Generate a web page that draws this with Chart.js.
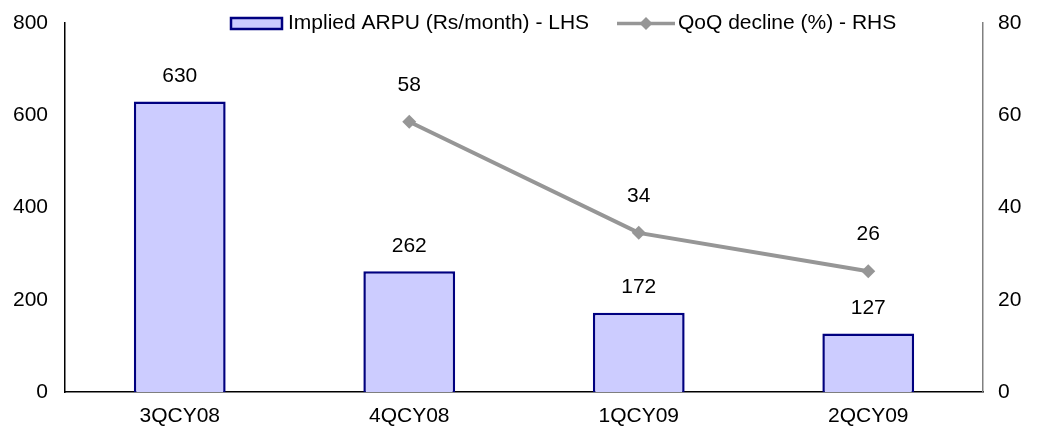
<!DOCTYPE html>
<html><head><meta charset="utf-8">
<script src="https://cdn.jsdelivr.net/npm/chart.js@4/dist/chart.umd.min.js"></script>
<style>html,body{margin:0;padding:0;background:#fff;}canvas{display:block;}</style>
</head><body>
<canvas id="c" width="1037" height="437"></canvas>
<script>
const categories = ['3QCY08', '4QCY08', '1QCY09', '2QCY09'];
const arpu = [630, 262, 172, 127];
const qoqDecline = [null, 58.6, 34.5, 26.2];
const leftTicks = [0, 200, 400, 600, 800];
const rightTicks = [0, 20, 40, 60, 80];
const seriesNames = ['Implied ARPU (Rs/month) - LHS', 'QoQ decline (%) - RHS'];

const FONT = '"Liberation Sans", Arial, sans-serif';
const FS = 21;

const labelPlugin = {
  id: 'valueLabels',
  afterDatasetsDraw(chart) {
    const ctx = chart.ctx;
    ctx.save();
    ctx.font = FS + 'px ' + FONT;
    ctx.fillStyle = '#000';
    ctx.textAlign = 'center';
    ctx.textBaseline = 'middle';
    chart.data.datasets.forEach((ds, di) => {
      const meta = chart.getDatasetMeta(di);
      meta.data.forEach((el, i) => {
        const v = ds.data[i];
        if (v === null || v === undefined) return;
        const off = ds.type === 'bar' ? 25 : 37;
        ctx.fillText(String(Math.floor(v)), el.x, el.y - off);
      });
    });
    ctx.restore();
  }
};

const legendPlugin = {
  id: 'customLegend',
  afterDraw(chart) {
    const ctx = chart.ctx;
    ctx.save();
    ctx.font = FS + 'px ' + FONT;
    ctx.textBaseline = 'middle';
    ctx.textAlign = 'left';
    const cy = 23.5;
    ctx.fillStyle = '#CCCCFF';
    ctx.fillRect(231, 18, 51, 11);
    ctx.strokeStyle = '#000080';
    ctx.lineWidth = 2.5;
    ctx.strokeRect(231, 18, 51, 11);
    ctx.fillStyle = '#000';
    ctx.fillText(seriesNames[0], 288, cy);
    ctx.strokeStyle = '#969696';
    ctx.lineWidth = 3.5;
    ctx.beginPath();
    ctx.moveTo(617, cy);
    ctx.lineTo(675, cy);
    ctx.stroke();
    ctx.fillStyle = '#969696';
    ctx.beginPath();
    ctx.moveTo(646, cy - 6.5);
    ctx.lineTo(652.5, cy);
    ctx.lineTo(646, cy + 6.5);
    ctx.lineTo(639.5, cy);
    ctx.closePath();
    ctx.fill();
    ctx.fillStyle = '#000';
    ctx.fillText(seriesNames[1], 678, cy);
    ctx.restore();
  }
};

new Chart(document.getElementById('c'), {
  data: {
    labels: categories,
    datasets: [
      {
        type: 'line',
        label: seriesNames[1],
        data: qoqDecline,
        yAxisID: 'y1',
        borderColor: '#969696',
        backgroundColor: '#969696',
        borderWidth: 4,
        pointStyle: 'rectRot',
        pointRadius: 7,
        pointBackgroundColor: '#969696',
        pointBorderColor: '#969696',
        pointBorderWidth: 0,
        tension: 0,
        order: 0
      },
      {
        type: 'bar',
        label: seriesNames[0],
        data: arpu,
        yAxisID: 'y',
        backgroundColor: '#CCCCFF',
        borderColor: '#000080',
        borderWidth: 2.5,
        categoryPercentage: 1,
        barPercentage: 0.4,
        order: 1
      }
    ]
  },
  options: {
    responsive: false,
    animation: false,
    devicePixelRatio: 1,
    layout: { padding: { top: 23, bottom: 0, left: 0, right: 0 } },
    plugins: { legend: { display: false }, tooltip: { enabled: false } },
    scales: {
      x: {
        grid: { display: false, drawTicks: false },
        border: { display: true, color: '#000', width: 1.5 },
        ticks: { color: '#000', font: { family: FONT, size: FS }, padding: 12, maxRotation: 0 },
        afterFit(s) { s.height = 45; }
      },
      y: {
        position: 'left',
        min: 0, max: 800,
        afterBuildTicks(s) { s.ticks = leftTicks.map(v => ({ value: v })); },
        grid: { display: false, drawTicks: true, tickLength: 17 },
        border: { display: true, color: '#000', width: 1.5 },
        ticks: { color: '#000', font: { family: FONT, size: FS }, padding: 0 },
        afterFit(s) { s.width = 65; }
      },
      y1: {
        position: 'right',
        min: 0, max: 80,
        afterBuildTicks(s) { s.ticks = rightTicks.map(v => ({ value: v })); },
        grid: { display: false, drawTicks: true, tickLength: 15 },
        border: { display: true, color: '#808080', width: 1.5 },
        ticks: { color: '#000', font: { family: FONT, size: FS }, padding: 0 },
        afterFit(s) { s.width = 54; }
      }
    }
  },
  plugins: [labelPlugin, legendPlugin]
});
</script>
</body></html>
